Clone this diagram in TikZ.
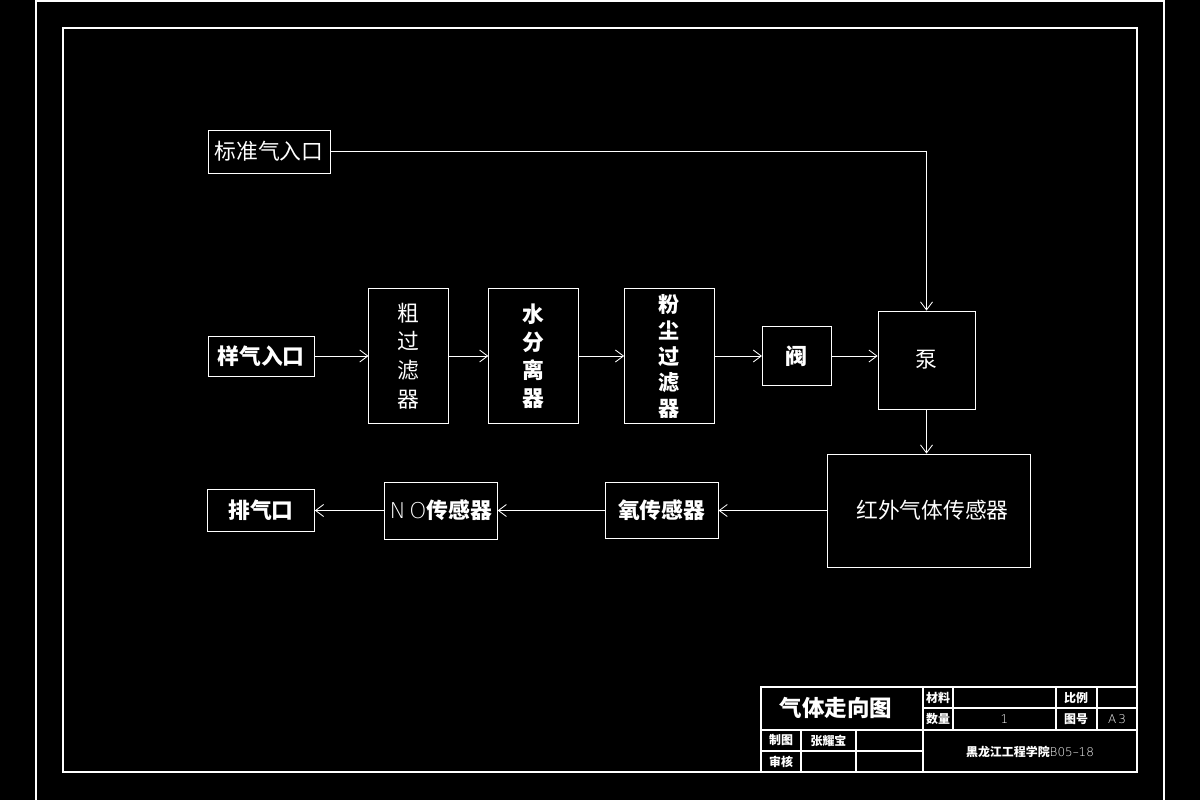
\documentclass[tikz,border=0pt]{standalone}
\usepackage{fontspec}
\newfontfamily\cjk{Noto Sans CJK SC}
\usetikzlibrary{arrows.meta,positioning}

\begin{document}
\begin{tikzpicture}[
  x=0.25mm, y=-0.25mm, node distance=10mm,
  box/.style={draw=white, line width=0.6pt, text=white, align=center, inner sep=0pt,
              font=\cjk\fontsize{15.5}{18}\selectfont},
  bbox/.style={box, font=\cjk\bfseries\fontsize{15.5}{18}\selectfont},
  vbox/.style={box, minimum height=33.75mm, font=\cjk\fontsize{15.5}{20.5}\selectfont},
  flow/.style={-{Straight Barb[length=2mm,width=3mm]}, draw=white, line width=0.6pt},
  frame/.style={draw=white, line width=0.8pt},
  cell/.style={text=white, inner sep=0pt, font=\cjk\bfseries\fontsize{8.5}{10}\selectfont}
]
\useasboundingbox (0,0) rectangle (1200,800);
\fill[black] (0,0) rectangle (1200,800);

% drawing frame
\draw[frame] (36,1) rectangle (1164,803);
\draw[frame] (63,28) rectangle (1137,772);

% gas path
\node[box, minimum width=30.5mm, minimum height=10.75mm] (bz) at (269,151.5) {标准气入口};
\node[bbox, minimum width=26.5mm, minimum height=10mm] (yq) at (261,356) {样气入口};

\node[vbox, minimum width=20mm, right=13.5mm of yq] (cu) {粗\\过\\滤\\器};
\node[vbox, minimum width=22.5mm, right=9.75mm of cu,
      font=\cjk\bfseries\fontsize{15.5}{20}\selectfont] (shui) {水\\分\\离\\器};
\node[vbox, minimum width=22.5mm, right=11.25mm of shui,
      font=\cjk\bfseries\fontsize{15}{18.5}\selectfont] (fen) {粉\\尘\\过\\滤\\器};
\node[bbox, minimum width=17.25mm, minimum height=14.75mm, right=11.75mm of fen] (fa) {阀};
\node[box, minimum width=24.25mm, minimum height=24.5mm] (beng) at (926.5,360) {泵};

\node[box, minimum width=50.75mm, minimum height=28.25mm] (hw) at (928.5,510.5) {\hspace{2mm}红外气体传感器};
\node[bbox, minimum width=28.25mm, minimum height=14mm, left=27mm of hw] (yang) {氧传感器};
\node[bbox, minimum width=28.25mm, minimum height=14.25mm, left=26.75mm of yang] (no)
  {{\mdseries\fontspec{DejaVu Sans ExtraLight}N\,O}传感器};
\node[bbox, minimum width=26.75mm, minimum height=10.5mm, left=17.25mm of no] (pq) {排气口};

\draw[flow] (bz.east) -| (beng.north);
\draw[flow] (yq) -- (cu);
\draw[flow] (cu) -- (shui);
\draw[flow] (shui) -- (fen);
\draw[flow] (fen) -- (fa);
\draw[flow] (fa.east) -- (fa.east -| beng.west);
\draw[flow] (beng) -- (beng |- hw.north);
\draw[flow] (hw) -- (yang);
\draw[flow] (yang) -- (no);
\draw[flow] (no) -- (pq);

% title block
\draw[frame] (761,687) rectangle (1137,772);
\draw[frame] (761,730) -- (1137,730);
\draw[frame] (923,708) -- (1137,708);
\draw[frame] (761,751) -- (923,751);
\draw[frame] (923,687) -- (923,772);
\draw[frame] (953,687) -- (953,730);
\draw[frame] (1056,687) -- (1056,730);
\draw[frame] (1097,687) -- (1097,730);
\draw[frame] (801,730) -- (801,772);
\draw[frame] (856,730) -- (856,772);

\node[cell, font=\cjk\bfseries\fontsize{16}{18}\selectfont] (tname) at (836,708) {气体走向图};
\node[cell] (cl) at (938,697.5) {材料};
\node[cell] (bl) at (1076,697.5) {比例};
\node[cell] (sl) at (938,719) {数量};
\node[cell, font=\fontspec{DejaVu Sans ExtraLight}\fontsize{8.5}{10}\selectfont] (sv) at (1004.5,719) {1};
\node[cell] (tl) at (1076,719) {图号};
\node[cell, font=\fontspec{DejaVu Sans ExtraLight}\fontsize{8.5}{10}\selectfont] (tv) at (1117,719) {A\,3};
\node[cell] (zl) at (781,740.5) {制图};
\node[cell] (zv) at (828.5,740.5) {张耀宝};
\node[cell] (shl) at (781,761.5) {审核};
\node[cell, font=\cjk\bfseries\fontsize{8.5}{10}\selectfont] (school) at (1030,752)
  {黑龙江工程学院{\mdseries\fontspec{DejaVu Sans ExtraLight}B05–18}};
\end{tikzpicture}
\end{document}
